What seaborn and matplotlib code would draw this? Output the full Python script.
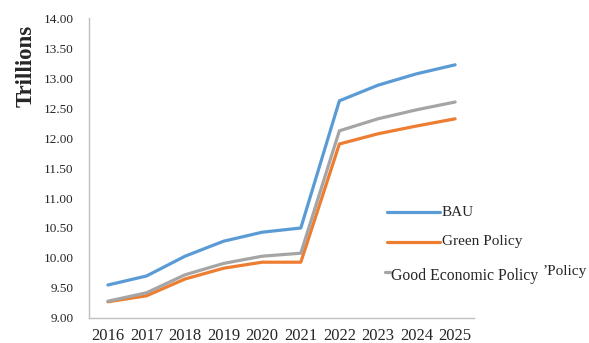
import pandas as pd
import matplotlib
matplotlib.use("Agg")
import matplotlib.pyplot as plt
import seaborn as sns
from matplotlib.lines import Line2D

years = [2016, 2017, 2018, 2019, 2020, 2021, 2022, 2023, 2024, 2025]
bau = [9.55, 9.70, 10.03, 10.28, 10.43, 10.50, 12.62, 12.88, 13.07, 13.22]
green = [9.27, 9.37, 9.65, 9.83, 9.93, 9.93, 11.90, 12.07, 12.20, 12.32]
good = [9.28, 9.42, 9.72, 9.91, 10.03, 10.08, 12.12, 12.32, 12.47, 12.60]
series_names = ["BAU", "Green Policy", "Good Economic Policy"]
colors = ["#5B9BD5", "#ED7D31", "#A5A5A5"]
yticks = [9.0, 9.5, 10.0, 10.5, 11.0, 11.5, 12.0, 12.5, 13.0, 13.5, 14.0]

df = pd.DataFrame({
    "Year": years * 3,
    "Value": bau + green + good,
    "Scenario": [series_names[0]] * 10 + [series_names[1]] * 10 + [series_names[2]] * 10,
})

sns.set_theme(style="white")
plt.rcParams["font.family"] = ["Liberation Serif", "DejaVu Serif"]

fig = plt.figure(figsize=(5.89, 3.43), dpi=100)
ax = fig.add_axes([0.1511, 0.0729, 0.6537, 0.8746])

for name, col in zip(series_names, colors):
    sub = df[df["Scenario"] == name]
    sns.lineplot(data=sub, x="Year", y="Value", color=col, linewidth=2.3, ax=ax, legend=False)

ax.set_xlim(2015.51, 2025.49)
ax.set_ylim(9.0, 14.0)
ax.set_xticks(years)
ax.set_xticklabels([str(y) for y in years], fontsize=12)
ax.set_yticks(yticks)
ax.set_yticklabels([f"{v:.2f}" for v in yticks], fontsize=9.5)
ax.tick_params(axis="y", length=0, pad=11)
ax.tick_params(axis="x", length=0, pad=7)
ax.set_xlabel("")
ax.set_ylabel("Trillions", fontsize=16.5, fontweight="bold")
ax.yaxis.set_label_coords(-0.135, 0.84)
for side in ["top", "right"]:
    ax.spines[side].set_visible(False)
for side in ["left", "bottom"]:
    ax.spines[side].set_color("#BFBFBF")
    ax.spines[side].set_linewidth(1.0)
ax.grid(False)

# hand-placed legend, as in the original picture
W, H = 589, 343
def fx(px):
    return px / W
def fy(py):
    return 1 - py / H

fig.add_artist(Line2D([fx(387), fx(440)], [fy(212), fy(212)], color=colors[0], linewidth=2.3))
fig.text(fx(442), fy(212), series_names[0], fontsize=11, va="center", ha="left")
fig.add_artist(Line2D([fx(387), fx(440)], [fy(242), fy(242)], color=colors[1], linewidth=2.3))
fig.text(fx(442), fy(242), series_names[1], fontsize=11, va="center", ha="left")
fig.add_artist(Line2D([fx(385), fx(390)], [fy(272), fy(272)], color=colors[2], linewidth=2.3))
fig.text(fx(391), fy(276), series_names[2], fontsize=11.3, va="center", ha="left")
fig.text(fx(543), fy(271), "\u2019Policy", fontsize=11, va="center", ha="left")

fig.savefig("out.png", dpi=100)
